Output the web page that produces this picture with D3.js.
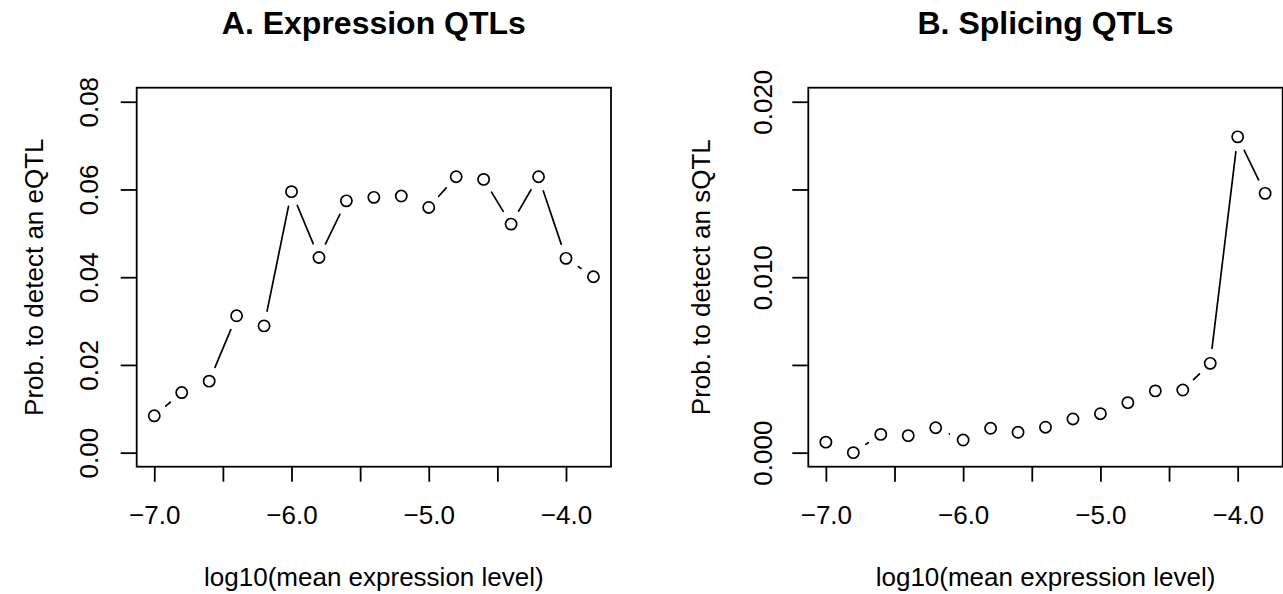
<!DOCTYPE html>
<html>
<head>
<meta charset="utf-8">
<script src="https://cdn.jsdelivr.net/npm/d3@7"></script>
<style>
  body { margin: 0; background: #fff; }
  text { font-family: "Liberation Sans", Arial, sans-serif; fill: #000; }
</style>
</head>
<body>
<div id="chart"></div>
<script>
// data
const logExpr = [-7.0, -6.8, -6.6, -6.4, -6.2, -6.0, -5.8, -5.6, -5.4, -5.2, -5.0, -4.8, -4.6, -4.4, -4.2, -4.0, -3.8];
const eqtlProb = [0.0084, 0.0137, 0.0163, 0.0312, 0.0289, 0.0595, 0.0445, 0.0574, 0.0582, 0.0585, 0.0559, 0.0629, 0.0623, 0.0521, 0.0629, 0.0443, 0.0401];
const sqtlProb = [0.0006, 0.0000, 0.00104, 0.00097, 0.00142, 0.00072, 0.00139, 0.00116, 0.00145, 0.00192, 0.00222, 0.00285, 0.00352, 0.00357, 0.00509, 0.0180, 0.01478];

const xTicks = [-7.0, -6.5, -6.0, -5.5, -5.0, -4.5, -4.0];
const eqtlTicks = [0, 0.02, 0.04, 0.06, 0.08];
const sqtlTicks = [0, 0.005, 0.01, 0.015, 0.02];
const sqtlLabelled = [0, 0.01, 0.02];

const W = 1283, H = 594;
const plotTop = 87.7, plotBottom = 466.7;

const svg = d3.select("#chart")
    .append("svg")
    .attr("width", W)
    .attr("height", H);

// R style range: data extent padded by 4%
function rRange(lo, hi) {
    let d = (hi - lo) * 0.04;
    return [lo - d, hi + d];
}

function drawPanel(opt) {
    let x = d3.scaleLinear()
        .domain(rRange(d3.min(logExpr), d3.max(logExpr)))
        .range([opt.left, opt.right]);
    let y = d3.scaleLinear()
        .domain(rRange(opt.ylim[0], opt.ylim[1]))
        .range([plotBottom, plotTop]);

    // x axis
    let gx = svg.append("g")
        .attr("transform", `translate(0,${plotBottom})`)
        .call(d3.axisBottom(x)
            .tickValues(xTicks)
            .tickSize(15)
            .tickFormat(function (d) { return Number.isInteger(d) ? d3.format(".1f")(d) : ""; }));
    gx.select(".domain").remove();
    gx.selectAll("line").attr("stroke", "#000").attr("stroke-width", 1.8);
    gx.selectAll("text")
        .attr("y", 57.3)
        .attr("dy", null)
        .style("font-size", "26px")
        .style("font-family", "Liberation Sans, Arial, sans-serif")
        .attr("fill", "#000");

    // y axis
    let gy = svg.append("g")
        .attr("transform", `translate(${opt.left},0)`)
        .call(d3.axisLeft(y)
            .tickValues(opt.yTicks)
            .tickSize(16)
            .tickFormat(function (d) {
                return opt.yLabelled.some(function (v) { return Math.abs(v - d) < 1e-9; }) ? d3.format(opt.yFmt)(d) : "";
            }));
    gy.select(".domain").remove();
    gy.selectAll("line").attr("stroke", "#000").attr("stroke-width", 1.8);
    gy.selectAll("text")
        .attr("transform", "rotate(-90)")
        .attr("x", 0)
        .attr("y", -opt.yLabOff)
        .attr("dy", null)
        .style("text-anchor", "middle")
        .style("font-size", "26px")
        .style("font-family", "Liberation Sans, Arial, sans-serif")
        .attr("fill", "#000");

    // box
    svg.append("rect")
        .attr("x", opt.left)
        .attr("y", plotTop)
        .attr("width", opt.right - opt.left)
        .attr("height", plotBottom - plotTop)
        .attr("fill", "none")
        .attr("stroke", "#000")
        .attr("stroke-width", 1.8);

    // type = "b": segments with a gap around each point
    let pts = logExpr.map(function (v, i) { return [x(v), y(opt.values[i])]; });
    let gap = 15;
    let segs = [];
    for (let i = 0; i < pts.length - 1; i++) {
        let dx = pts[i + 1][0] - pts[i][0], dy = pts[i + 1][1] - pts[i][1];
        let len = Math.sqrt(dx * dx + dy * dy);
        if (len > 2 * gap) {
            let ux = dx / len, uy = dy / len;
            segs.push([pts[i][0] + ux * gap, pts[i][1] + uy * gap,
                       pts[i + 1][0] - ux * gap, pts[i + 1][1] - uy * gap]);
        }
    }
    svg.append("g").selectAll("line")
        .data(segs)
        .enter()
        .append("line")
        .attr("x1", function (d) { return d[0]; })
        .attr("y1", function (d) { return d[1]; })
        .attr("x2", function (d) { return d[2]; })
        .attr("y2", function (d) { return d[3]; })
        .attr("stroke", "#000")
        .attr("stroke-width", 1.7)
        .attr("stroke-linecap", "round");

    svg.append("g").selectAll("circle")
        .data(opt.values)
        .enter()
        .append("circle")
        .attr("cx", function (d, i) { return x(logExpr[i]); })
        .attr("cy", function (d) { return y(d); })
        .attr("r", 5.6)
        .attr("fill", "none")
        .attr("stroke", "#000")
        .attr("stroke-width", 1.7);

    // titles
    let cx = (opt.left + opt.right) / 2;
    svg.append("text")
        .attr("x", cx)
        .attr("y", 34)
        .style("text-anchor", "middle")
        .style("font-size", "32px")
        .style("font-weight", "bold")
        .text(opt.title);

    svg.append("text")
        .attr("x", cx)
        .attr("y", 586)
        .style("text-anchor", "middle")
        .style("font-size", "26px")
        .text("log10(mean expression level)");

    svg.append("text")
        .attr("transform", `translate(${opt.yTitleX},${(plotTop + plotBottom) / 2}) rotate(-90)`)
        .style("text-anchor", "middle")
        .style("font-size", "26px")
        .text(opt.ylab);
}

drawPanel({
    left: 136.7, right: 611,
    values: eqtlProb,
    ylim: [0, 0.08],
    yTicks: eqtlTicks,
    yLabelled: eqtlTicks,
    yFmt: ".2f",
    yLabOff: 38.4,
    yTitleX: 43.3,
    title: "A. Expression QTLs",
    ylab: "Prob. to detect an eQTL"
});

drawPanel({
    left: 808.3, right: 1282.7,
    values: sqtlProb,
    ylim: [0, 0.02],
    yTicks: sqtlTicks,
    yLabelled: sqtlLabelled,
    yFmt: ".3f",
    yLabOff: 36.6,
    yTitleX: 710,
    title: "B. Splicing QTLs",
    ylab: "Prob. to detect an sQTL"
});
</script>
</body>
</html>
